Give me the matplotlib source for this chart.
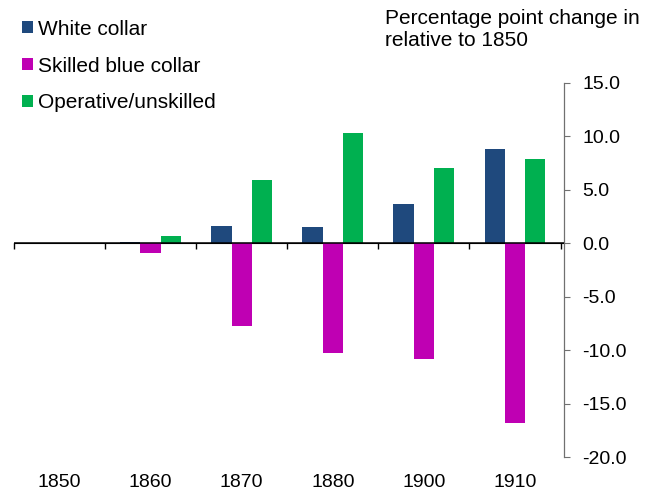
import numpy as np
import matplotlib
matplotlib.use("Agg")
import matplotlib.pyplot as plt

plt.rcParams['font.family'] = ['Liberation Sans', 'DejaVu Sans']

# data
years = ["1850", "1860", "1870", "1880", "1900", "1910"]
white_collar = [0.0, 0.1, 1.6, 1.5, 3.7, 8.8]
skilled_blue = [0.0, -0.9, -7.7, -10.3, -10.8, -16.8]
operative = [0.0, 0.7, 5.9, 10.3, 7.0, 7.9]
y_ticks = [15, 10, 5, 0, -5, -10, -15, -20]

series = [
    ("White collar", white_collar, "#1F497D"),
    ("Skilled blue collar", skilled_blue, "#BF00B3"),
    ("Operative/unskilled", operative, "#00B050"),
]

fig = plt.figure(figsize=(6.63, 4.99), dpi=100)
ax = fig.add_axes([0.021, 0.084, 0.830, 0.750])

x = np.arange(len(years))
w = 0.223
for i, (name, vals, col) in enumerate(series):
    ax.bar(x + (i - 1) * w, vals, w, color=col, label=name, zorder=2)

ax.axhline(0, color="black", lw=1.1, zorder=3)

ax.set_xlim(-0.5, 5.54)
ax.set_ylim(-20, 15)

# right hand value axis
ax.yaxis.tick_right()
ax.set_yticks(y_ticks)
ax.set_yticklabels([f"{v:.1f}" for v in y_ticks])
ax.tick_params(axis="y", direction="out", length=4.3, width=0.8, color="#707070",
               pad=8.6, labelsize=14)
for s in ["top", "left", "bottom"]:
    ax.spines[s].set_visible(False)
ax.spines["right"].set_color("#707070")
ax.spines["right"].set_linewidth(0.9)

# category labels at the bottom
ax.set_xticks(x)
ax.set_xticklabels(years)
ax.tick_params(axis="x", length=0, pad=12, labelsize=14)

# small category separators on the zero line
sec = ax.secondary_xaxis(20 / 35)
sec.set_xticks(np.arange(len(years) + 1) - 0.5)
sec.set_xticklabels([])
sec.tick_params(direction="in", length=4, width=1, color="black")
sec.spines["bottom"].set_visible(False)

fig.legend(loc="upper left", bbox_to_anchor=(0.021, 0.977), frameon=False,
           fontsize=15, handlelength=0.5, handleheight=0.5, handletextpad=0.25,
           labelspacing=0.85, borderaxespad=0)

fig.text(385 / 663, 1 - 9 / 499, "Percentage point change in\nrelative to 1850",
         ha="left", va="top", fontsize=15, linespacing=1.2)

fig.savefig("out.png", dpi=100)
